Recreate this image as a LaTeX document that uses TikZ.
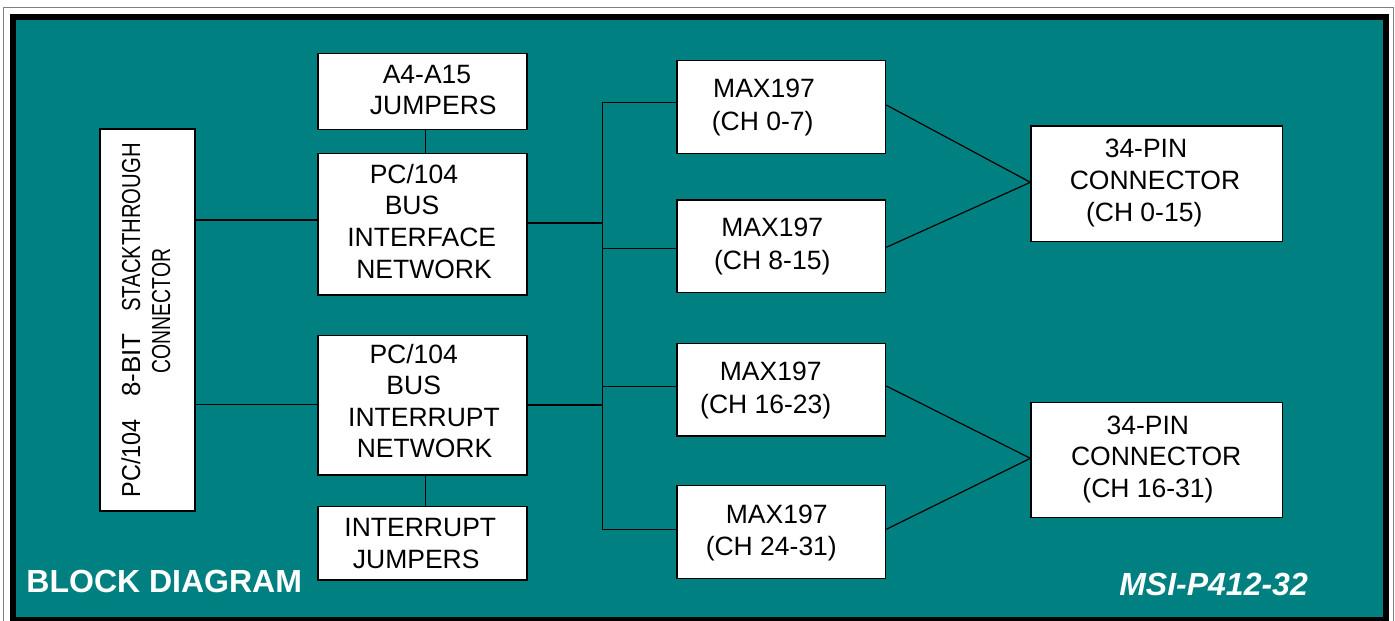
\documentclass[tikz,border=0pt]{standalone}
\usepackage{fontspec}
\setmainfont{Liberation Sans}
\newfontfamily\stretchA[FakeStretch=0.9]{Liberation Sans}
\newfontfamily\stretchB[FakeStretch=0.78]{Liberation Sans}
\newfontfamily\stretchC[FakeStretch=0.746]{Liberation Sans}
\definecolor{tealbg}{RGB}{0,128,128}
\definecolor{framegray}{RGB}{128,128,128}
\newcommand\mytop{\rule{0pt}{20pt}}
\newcommand\mybot{\rule[-6pt]{0pt}{6pt}}
\begin{document}
\begin{tikzpicture}[x=1pt,y=-1pt,
  box/.style={draw=black, line width=1.3pt, fill=white, inner sep=0pt},
  txt/.style={align=center, inner sep=0pt, text=black},
  fs/.style={font=\fontsize{26.5}{#1}\selectfont},
  vword/.style={rotate=90, anchor=base, inner sep=0pt, text=black, font=\fontsize{26}{30}\selectfont},
  wire/.style={draw=black, line width=1.2pt},
  lbl/.style={text=white, inner sep=0pt}]
\useasboundingbox (0,0) rectangle (1395,621);
\clip (0,0) rectangle (1395,621);
\fill[white] (0,0) rectangle (1395,621);
\draw[framegray, line width=1pt] (3.5,7.5) rectangle (1393.5,640);
\fill[black] (10,14) rectangle (1389,625);
\fill[tealbg] (16,20) rectangle (1383,617);

% boxes
\node[box, minimum width=95pt, minimum height=382pt] (stack) at (147.5,320) {};
\node[box, minimum width=209pt, minimum height=76pt] (a4) at (422.5,91.2) {};
\node[box, minimum width=209pt, minimum height=141.7pt] (iface) at (422.5,224.2) {};
\node[box, minimum width=209pt, minimum height=139.3pt] (irq) at (422.5,405.3) {};
\node[box, minimum width=209pt, minimum height=73.3pt] (ijmp) at (422.5,543.3) {};
\node[box, minimum width=208.7pt, minimum height=92.6pt] (m1) at (781.3,107) {};
\node[box, minimum width=208.7pt, minimum height=92.3pt] (m2) at (781.3,246.2) {};
\node[box, minimum width=208.7pt, minimum height=92.7pt] (m3) at (781.3,389.7) {};
\node[box, minimum width=208.7pt, minimum height=92.6pt] (m4) at (781.3,532) {};
\node[box, minimum width=251.3pt, minimum height=115.7pt] (c1) at (1156.7,183.8) {};
\node[box, minimum width=251.3pt, minimum height=115pt] (c2) at (1156.7,459.8) {};

% vertical text of the stackthrough connector
\node[vword] (sw1) at (140,458.3) {\stretchA PC/104};
\node[vword] (sw2) at (140,365) {8-BIT};
\node[vword] (sw3) at (140,227.5) {\stretchB STACKTHROUGH};
\node[vword] (sw4) at (170,310.8) {\stretchC CONNECTOR};

% texts
\node[txt, fs=30.7] (ta4) at (422.5,91.65) {\mytop\hspace*{9pt}A4-A15\\\hspace*{21.6pt}JUMPERS\mybot};
\node[txt, fs=31.7] (tiface) at (422.5,223.8)
  {\mytop\hspace*{-17pt}PC/104\\\hspace*{-21pt}BUS\\\hspace*{-1.6pt}INTERFACE\\\hspace*{3pt}NETWORK\mybot};
\node[txt, fs=31.5] (tirq) at (422.5,403.5)
  {\mytop\hspace*{-17.6pt}PC/104\\\hspace*{-17.6pt}BUS\\\hspace*{3pt}INTERRUPT\\\hspace*{4pt}NETWORK\mybot};
\node[txt, fs=31.6] (tijmp) at (422.5,545.5) {\mytop\hspace*{-4.4pt}INTERRUPT\\\hspace*{-12.6pt}JUMPERS\mybot};
\node[txt, fs=32.7] (tm1) at (781.3,106.65) {\mytop\hspace*{-34.6pt}MAX197\\\hspace*{-37.2pt}(CH 0-7)\mybot};
\node[txt, fs=32.6] (tm2) at (781.3,246) {\mytop\hspace*{-18.2pt}MAX197\\\hspace*{-18.2pt}(CH 8-15)\mybot};
\node[txt, fs=32.6] (tm3) at (781.3,390) {\mytop\hspace*{-21.2pt}MAX197\\\hspace*{-31.2pt}(CH 16-23)\mybot};
\node[txt, fs=32.4] (tm4) at (781.3,532.5) {\mytop\hspace*{-9.2pt}MAX197\\\hspace*{-20pt}(CH 24-31)\mybot};
\node[txt, fs=32] (tc1) at (1156.7,182.7)
  {\mytop\hspace*{-21.4pt}34-PIN\\\hspace*{-3.4pt}CONNECTOR\\\hspace*{-25pt}(CH 0-15)\mybot};
\node[txt, fs=31.85] (tc2) at (1156.7,458.85)
  {\mytop\hspace*{-17.8pt}34-PIN\\\hspace*{-1pt}CONNECTOR\\\hspace*{-17.4pt}(CH 16-31)\mybot};

% labels
\node[lbl, anchor=base west, font=\fontsize{32}{36}\selectfont\bfseries] (title) at (26.3,592.3) {BLOCK DIAGRAM};
\node[lbl, anchor=base east, font=\fontsize{32}{36}\selectfont\bfseries\itshape] (model) at (1308,595) {MSI-P412-32};

% connectors
\coordinate (bt) at (602.3,102.7);
\coordinate (bb) at (602.3,529.3);
\draw[wire] (stack.east |- 0,220) -- (iface.west |- 0,220);
\draw[wire] (stack.east |- 0,404.5) -- (irq.west |- 0,404.5);
\draw[wire] (a4.south -| 425.7,0) -- (iface.north -| 425.7,0);
\draw[wire] (irq.south -| 425.7,0) -- (ijmp.north -| 425.7,0);
\draw[wire] (bt) -- (bb);
\draw[wire] (iface.east |- 0,223) -- (bt |- 0,223);
\draw[wire] (irq.east |- 0,405) -- (bt |- 0,405);
\draw[wire] (bt) -- (m1.west |- bt);
\draw[wire] (bt |- 0,248.7) -- (m2.west |- 0,248.7);
\draw[wire] (bt |- 0,386.7) -- (m3.west |- 0,386.7);
\draw[wire] (bb) -- (m4.west |- bb);
\draw[wire] (m1.east |- 0,105) -- (c1.west |- 0,182.3);
\draw[wire] (m2.east |- 0,247.3) -- (c1.west |- 0,182.3);
\draw[wire] (m3.east |- 0,386) -- (c2.west |- 0,458.3);
\draw[wire] (m4.east |- 0,529.3) -- (c2.west |- 0,458.3);
\end{tikzpicture}
\end{document}
